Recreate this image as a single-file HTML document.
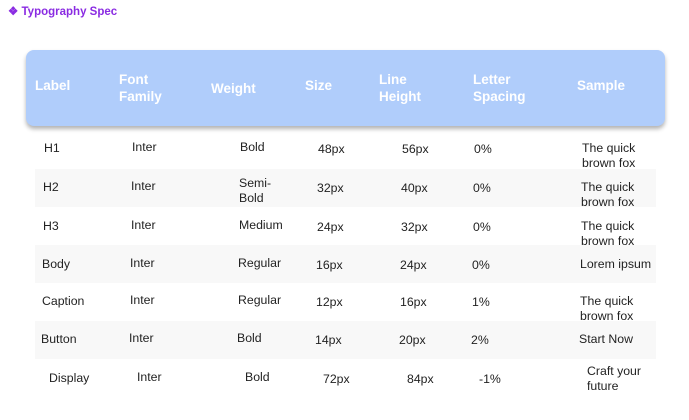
<!DOCTYPE html>
<html><head><meta charset="utf-8"><style>
body{margin:0;width:689px;height:420px;background:#fff;font-family:"Liberation Sans",sans-serif;position:relative;overflow:hidden}
.t{position:absolute;font-size:12.3px;line-height:15px;color:#222;white-space:nowrap}
.h{position:absolute;font-size:13.5px;line-height:17px;color:#fff;font-weight:bold;white-space:nowrap}
.hdr{position:absolute;left:26px;top:50px;width:639px;height:76px;background:#b0cdfb;border-radius:8px;box-shadow:0 3px 4px rgba(0,0,0,0.3)}
.stripe{position:absolute;left:35px;width:621px;height:38px;background:#f8f8f8}
</style></head><body>
<div class="t" style="left:8px;top:5px;color:#8a2be2;font-size:11.5px;font-weight:bold">❖ Typography Spec</div>
<div class="hdr"></div>
<div class="h" style="left:35px;top:77px">Label</div>
<div class="h" style="left:119px;top:71px">Font<br>Family</div>
<div class="h" style="left:211px;top:80px">Weight</div>
<div class="h" style="left:305px;top:77px">Size</div>
<div class="h" style="left:379px;top:71px">Line<br>Height</div>
<div class="h" style="left:473px;top:71px">Letter<br>Spacing</div>
<div class="h" style="left:577px;top:77px">Sample</div>
<div class="stripe" style="top:169px"></div>
<div class="stripe" style="top:245px"></div>
<div class="stripe" style="top:321px"></div>
<div id="rows"></div>
<script>
const labels=["H1","H2","H3","Body","Caption","Button","Display"];
const families=["Inter","Inter","Inter","Inter","Inter","Inter","Inter"];
const weights=["Bold","Semi-<br>Bold","Medium","Regular","Regular","Bold","Bold"];
const sizes=["48px","32px","24px","16px","12px","14px","72px"];
const lineHeights=["56px","40px","32px","24px","16px","20px","84px"];
const spacings=["0%","0%","0%","0%","1%","2%","-1%"];
const samples=["The quick<br>brown fox","The quick<br>brown fox","The quick<br>brown fox","Lorem ipsum","The quick<br>brown fox","Start Now","Craft your<br>future"];
const rowY=[149,188,227,265,302,340,379];
const rowDx=[0,-1,-1,-2,-2,-3,5];
const cols=[[44,labels,0],[132,families,-1],[240,weights,-1],[318,sizes,1],[402,lineHeights,1],[474,spacings,1],[582,samples,0]];
const root=document.getElementById('rows');
labels.forEach((l,i)=>{
  cols.forEach((c,j)=>{
    const d=document.createElement('div');
    d.className='t';
    
    
    let y=rowY[i]+c[2];
    if(j==2&&i==1)y-=3;
    if(j==6&&i==6)y-=7;
    d.style.left=(c[0]+rowDx[i])+'px';
    d.style.top=(y-8)+'px';
    d.innerHTML=c[1][i];
    root.appendChild(d);
  });
});
</script>
</body></html>
